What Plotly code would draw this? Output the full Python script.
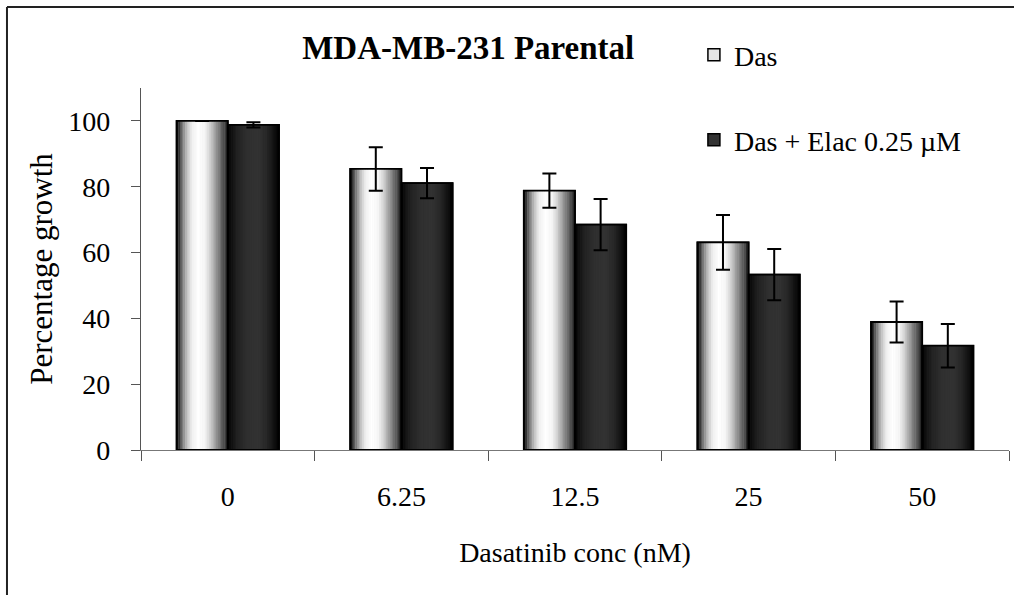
import plotly.graph_objects as go

# ---- data ----
categories = ["0", "6.25", "12.5", "25", "50"]
das = [100.0, 85.4, 78.8, 63.1, 38.9]
das_err = [0.0, 6.6, 5.2, 8.3, 6.2]
elac = [98.8, 81.1, 68.5, 53.3, 31.7]
elac_err = [0.8, 4.6, 7.8, 7.8, 6.6]
series_names = ["Das", "Das + Elac 0.25 µM"]

FONT = "Times New Roman, Liberation Serif, serif"
W = 0.295          # width of one bar in category units
N = 30             # stripes used to imitate the cylinder shading

das_stops = [(0, 0), (0.04, 40), (0.1, 110), (0.2, 190), (0.3, 240), (0.42, 255),
             (0.55, 245), (0.65, 210), (0.75, 160), (0.85, 110), (0.93, 70), (1.0, 30)]
elac_stops = [(0, 0), (0.06, 15), (0.2, 35), (0.4, 48), (0.6, 50), (0.75, 40),
              (0.88, 20), (1.0, 0)]


def gray_at(stops, t):
    for (t0, g0), (t1, g1) in zip(stops[:-1], stops[1:]):
        if t0 <= t <= t1:
            g = int(round(g0 + (g1 - g0) * (t - t0) / (t1 - t0)))
            return f"rgb({g},{g},{g})"
    g = stops[-1][1]
    return f"rgb({g},{g},{g})"


fig = go.Figure()

# base traces (legend entries)
fig.add_trace(go.Bar(x=categories, y=das, name=series_names[0], offset=-W, width=W,
                     marker=dict(color="#e6e6e6", line=dict(color="black", width=1.5)),
                     legend="legend", hoverinfo="skip"))
fig.add_trace(go.Bar(x=categories, y=elac, name=series_names[1], offset=0, width=W,
                     marker=dict(color="#333333", line=dict(color="black", width=1.5)),
                     legend="legend2", hoverinfo="skip"))

# shading stripes
sw = W / N
for vals, stops, start in ((das, das_stops, -W), (elac, elac_stops, 0.0)):
    for k in range(N):
        t = (k + 0.5) / N
        fig.add_trace(go.Bar(x=categories, y=vals, offset=start + k * sw,
                             width=sw * 1.2 if k < N - 1 else sw,
                             marker=dict(color=gray_at(stops, t), line=dict(width=0)),
                             showlegend=False, hoverinfo="skip"))

# outlines + error bars
for vals, errs, start, nm in ((das, das_err, -W, series_names[0]),
                              (elac, elac_err, 0.0, series_names[1])):
    fig.add_trace(go.Bar(x=categories, y=vals, offset=start, width=W, name=nm,
                         marker=dict(color="rgba(0,0,0,0)", line=dict(color="black", width=1.8)),
                         error_y=dict(type="data", array=errs, visible=True,
                                      color="black", thickness=2, width=7),
                         showlegend=False))

fig.update_layout(
    width=1014, height=595,
    margin=dict(l=141, r=5, t=88, b=145),
    paper_bgcolor="white", plot_bgcolor="white",
    barmode="overlay",
    font=dict(family=FONT, color="black", size=28),
    title=dict(text="<b>MDA-MB-231 Parental</b>", x=0.377, xref="paper", xanchor="center",
               y=1 - 47 / 595, yref="container", yanchor="middle",
               font=dict(family=FONT, size=33, color="black")),
    xaxis=dict(type="category", showline=True, linecolor="#777", linewidth=1.2,
               ticks="outside", tickson="boundaries", ticklen=10, tickcolor="#555",
               ticklabelstandoff=21, showgrid=False, zeroline=False,
               tickfont=dict(family=FONT, size=28, color="black"),
               title=dict(text="Dasatinib conc (nM)",
                          font=dict(family=FONT, size=28, color="black"), standoff=31)),
    yaxis=dict(range=[0, 110], dtick=20, showline=True, linecolor="#555", linewidth=1.2,
               ticks="outside", ticklen=9, tickcolor="#555", ticklabelstandoff=15,
               showgrid=False, zeroline=False,
               tickfont=dict(family=FONT, size=28, color="black"),
               title=dict(text="Percentage growth",
                          font=dict(family=FONT, size=31, color="black"), standoff=6)),
    legend=dict(x=0.637, y=1.091, xanchor="left", yanchor="middle",
                font=dict(family=FONT, size=28, color="black"), bgcolor="rgba(0,0,0,0)"),
    legend2=dict(x=0.637, y=0.856, xanchor="left", yanchor="middle",
                 font=dict(family=FONT, size=28, color="black"), bgcolor="rgba(0,0,0,0)"),
    shapes=[
        dict(type="line", xref="paper", yref="paper", x0=-0.1544, x1=1.05,
             y0=1.2238, y1=1.2238, line=dict(color="#222", width=2), layer="below"),
        dict(type="line", xref="paper", yref="paper", x0=-0.1544, x1=-0.1544,
             y0=-0.5, y1=1.2238, line=dict(color="#222", width=2), layer="below"),
    ],
)

fig.write_html(
    "out.html", config={"displayModeBar": False},
    post_script=("document.documentElement.style.overflow='hidden';"
                 "document.body.style.margin='0';document.body.style.overflow='hidden';"))
